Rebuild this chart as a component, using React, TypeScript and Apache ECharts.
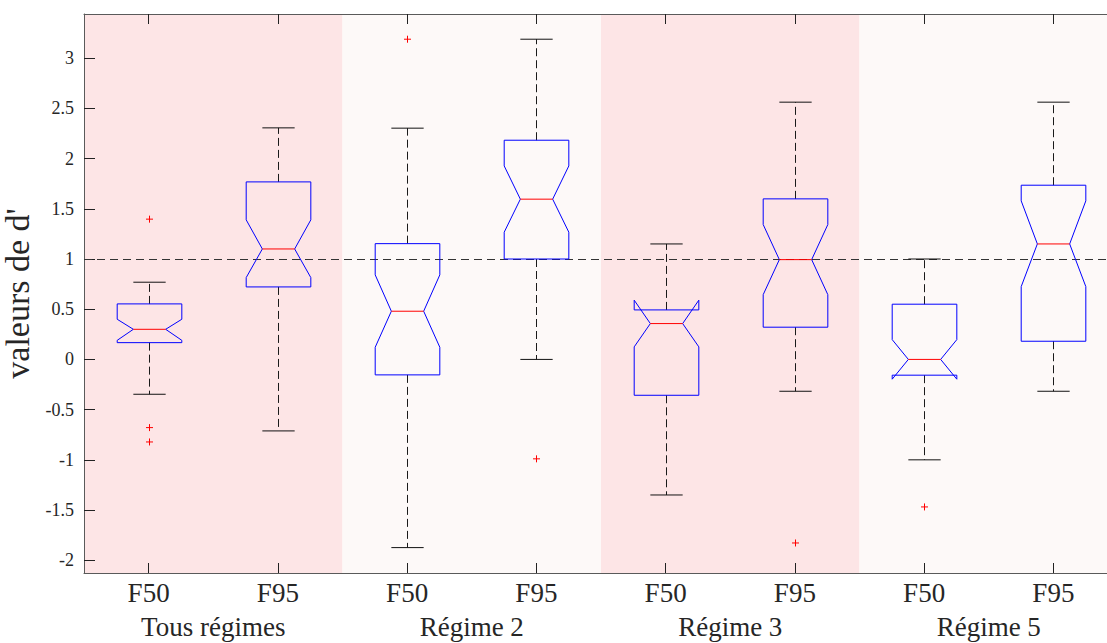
import React, { useEffect, useRef } from 'react';
import * as echarts from 'echarts';

const categories = ['F50', 'F95', 'F50', 'F95', 'F50', 'F95', 'F50', 'F95'];
const groups = ['Tous régimes', 'Régime 2', 'Régime 3', 'Régime 5'];
const lowerWhisker = [-0.347, -0.712, -1.874, 0.0, -1.35, -0.317, -1.0, -0.317];
const q1 = [0.167, 0.722, -0.154, 1.0, -0.357, 0.321, -0.157, 0.181];
const notchLow = [0.19, 0.815, 0.121, 1.267, 0.125, 0.645, -0.197, 0.725];
const median = [0.3, 1.1, 0.48, 1.596, 0.357, 0.994, 0.0, 1.15];
const notchHigh = [0.4, 1.39, 0.842, 1.927, 0.59, 1.343, 0.197, 1.579];
const q3 = [0.553, 1.768, 1.153, 2.183, 0.493, 1.599, 0.55, 1.735];
const upperWhisker = [0.769, 2.306, 2.303, 3.189, 1.15, 2.562, 1.0, 2.562];
const outliers: [number, number][] = [
  [0, 1.397], [0, -0.679], [0, -0.822], [2, 3.189], [3, -0.99], [5, -1.828], [6, -1.469],
];
const referenceLevel = 1;
const yMin = -2.127;
const yMax = 3.44;
const yTitle = "valeurs de d'";

const FONT = 'Liberation Serif';
const TEXT = '#262626';
const AXIS = '#5a5a5a';
const bandColors = ['#fde5e6', '#fdf9f8'];

export default function App() {
  const ref = useRef<HTMLDivElement>(null);
  useEffect(() => {
    if (!ref.current) return;
    const chart = echarts.init(ref.current, null, { renderer: 'svg' });
    const boxData = categories.map((_, i) => [
      i, lowerWhisker[i], q1[i], notchLow[i], median[i], notchHigh[i], q3[i], upperWhisker[i],
    ]);
    const option: any = {
      animation: false,
      backgroundColor: '#ffffff',
      textStyle: { fontFamily: FONT },
      grid: {
        left: 84, top: 14, width: 1034, bottom: 70,
        containLabel: false, outerBoundsMode: 'none',
      },
      xAxis: [
        {
          type: 'category',
          data: categories,
          position: 'bottom',
          boundaryGap: true,
          axisLine: { show: true, onZero: false, lineStyle: { color: AXIS, width: 1 } },
          axisTick: { show: true, inside: true, length: 10, alignWithLabel: true, lineStyle: { color: '#222' } },
          axisLabel: { fontFamily: FONT, fontSize: 27, color: TEXT, margin: 6 },
          splitLine: { show: false },
        },
        {
          type: 'category',
          data: groups,
          position: 'bottom',
          boundaryGap: true,
          axisLine: { show: false, onZero: false },
          axisTick: { show: false },
          axisLabel: { fontFamily: FONT, fontSize: 27, color: TEXT, margin: 40 },
          splitLine: { show: false },
        },
        {
          type: 'category',
          data: categories,
          position: 'top',
          boundaryGap: true,
          axisLine: { show: true, onZero: false, lineStyle: { color: AXIS, width: 1 } },
          axisTick: { show: true, inside: true, length: 10, alignWithLabel: true, lineStyle: { color: '#222' } },
          axisLabel: { show: false },
          splitLine: { show: false },
        },
      ],
      yAxis: {
        type: 'value',
        min: yMin,
        max: yMax,
        splitNumber: 11,
        name: yTitle,
        nameLocation: 'middle',
        nameGap: 47,
        nameTextStyle: { fontFamily: FONT, fontSize: 34, color: TEXT },
        axisLine: { show: true, onZero: false, lineStyle: { color: AXIS, width: 1 } },
        axisTick: { show: true, inside: true, length: 11, lineStyle: { color: '#222' } },
        axisLabel: {
          fontFamily: FONT,
          fontSize: 18,
          color: TEXT,
          margin: 10,
          showMinLabel: false,
          showMaxLabel: false,
          formatter: (v: number) => (Math.abs(v * 2 - Math.round(v * 2)) < 1e-6 ? String(v) : ''),
        },
        splitLine: { show: false },
      },
      series: [
        {
          type: 'custom',
          name: 'bands',
          xAxisIndex: 1,
          yAxisIndex: 0,
          z: 0,
          silent: true,
          clip: false,
          data: groups.map((_, k) => [k, 0]),
          encode: { x: 0, y: 1 },
          renderItem: (params: any, api: any) => {
            const k = api.value(0);
            const cx = api.coord([k, 0])[0];
            const w = api.size([1, 0])[0];
            const cs = params.coordSys;
            return {
              type: 'rect',
              shape: { x: cx - w / 2, y: cs.y, width: w, height: cs.height },
              style: { fill: bandColors[k % 2] },
            };
          },
        },
        {
          type: 'custom',
          name: 'reference',
          xAxisIndex: 0,
          yAxisIndex: 0,
          z: 1,
          silent: true,
          data: [[0, referenceLevel]],
          encode: { x: 0, y: 1 },
          renderItem: (params: any, api: any) => {
            const cs = params.coordSys;
            const y = Math.round(api.coord([0, api.value(1)])[1]) + 0.5;
            return {
              type: 'line',
              shape: { x1: cs.x, y1: y, x2: cs.x + cs.width, y2: y },
              style: { stroke: '#333', lineWidth: 1, lineDash: [8, 5] },
            };
          },
        },
        {
          type: 'custom',
          name: 'boxes',
          xAxisIndex: 0,
          yAxisIndex: 0,
          z: 2,
          silent: true,
          data: boxData,
          encode: { x: 0, y: [1, 2, 3, 4, 5, 6, 7] },
          renderItem: (params: any, api: any) => {
            const i = api.value(0);
            const cx = Math.round(api.coord([i, 0])[0]) + 0.5;
            const bw = api.size([1, 0])[0] * 0.5;
            const h = bw / 2;
            const Y = (v: number) => api.coord([i, v])[1];
            const lw = api.value(1), a = api.value(2), nl = api.value(3), md = api.value(4),
              nh = api.value(5), b = api.value(6), uw = api.value(7);
            const dash = { stroke: '#1a1a1a', lineWidth: 1, lineDash: [8, 4], fill: 'none' };
            const solid = { stroke: '#111', lineWidth: 1, fill: 'none' };
            return {
              type: 'group',
              children: [
                { type: 'line', shape: { x1: cx, y1: Y(b), x2: cx, y2: Y(uw) }, style: dash },
                { type: 'line', shape: { x1: cx, y1: Y(a), x2: cx, y2: Y(lw) }, style: dash },
                { type: 'line', shape: { x1: cx - h / 2, y1: Y(uw), x2: cx + h / 2, y2: Y(uw) }, style: solid },
                { type: 'line', shape: { x1: cx - h / 2, y1: Y(lw), x2: cx + h / 2, y2: Y(lw) }, style: solid },
                {
                  type: 'polygon',
                  shape: {
                    points: [
                      [cx - h, Y(a)], [cx - h, Y(nl)], [cx - h / 2, Y(md)], [cx - h, Y(nh)], [cx - h, Y(b)],
                      [cx + h, Y(b)], [cx + h, Y(nh)], [cx + h / 2, Y(md)], [cx + h, Y(nl)], [cx + h, Y(a)],
                    ],
                  },
                  style: { fill: 'none', stroke: '#0000ff', lineWidth: 1 },
                },
                {
                  type: 'line',
                  shape: { x1: cx - h / 2, y1: Y(md), x2: cx + h / 2, y2: Y(md) },
                  style: { stroke: '#ff0000', lineWidth: 1 },
                },
              ],
            };
          },
        },
        {
          type: 'custom',
          name: 'outliers',
          xAxisIndex: 0,
          yAxisIndex: 0,
          z: 3,
          silent: true,
          data: outliers,
          encode: { x: 0, y: 1 },
          renderItem: (params: any, api: any) => {
            const p = api.coord([api.value(0), api.value(1)]);
            const x = Math.round(p[0]) + 0.5;
            const y = p[1];
            const s = 3.5;
            const st = { stroke: '#ff0000', lineWidth: 1 };
            return {
              type: 'group',
              children: [
                { type: 'line', shape: { x1: x - s, y1: y, x2: x + s, y2: y }, style: st },
                { type: 'line', shape: { x1: x, y1: y - s, x2: x, y2: y + s }, style: st },
              ],
            };
          },
        },
      ],
    };
    chart.setOption(option);
    return () => chart.dispose();
  }, []);
  return (
    <div
      ref={ref}
      style={{ position: 'fixed', left: 0, top: 0, width: 1107, height: 643, background: '#fff' }}
    />
  );
}
